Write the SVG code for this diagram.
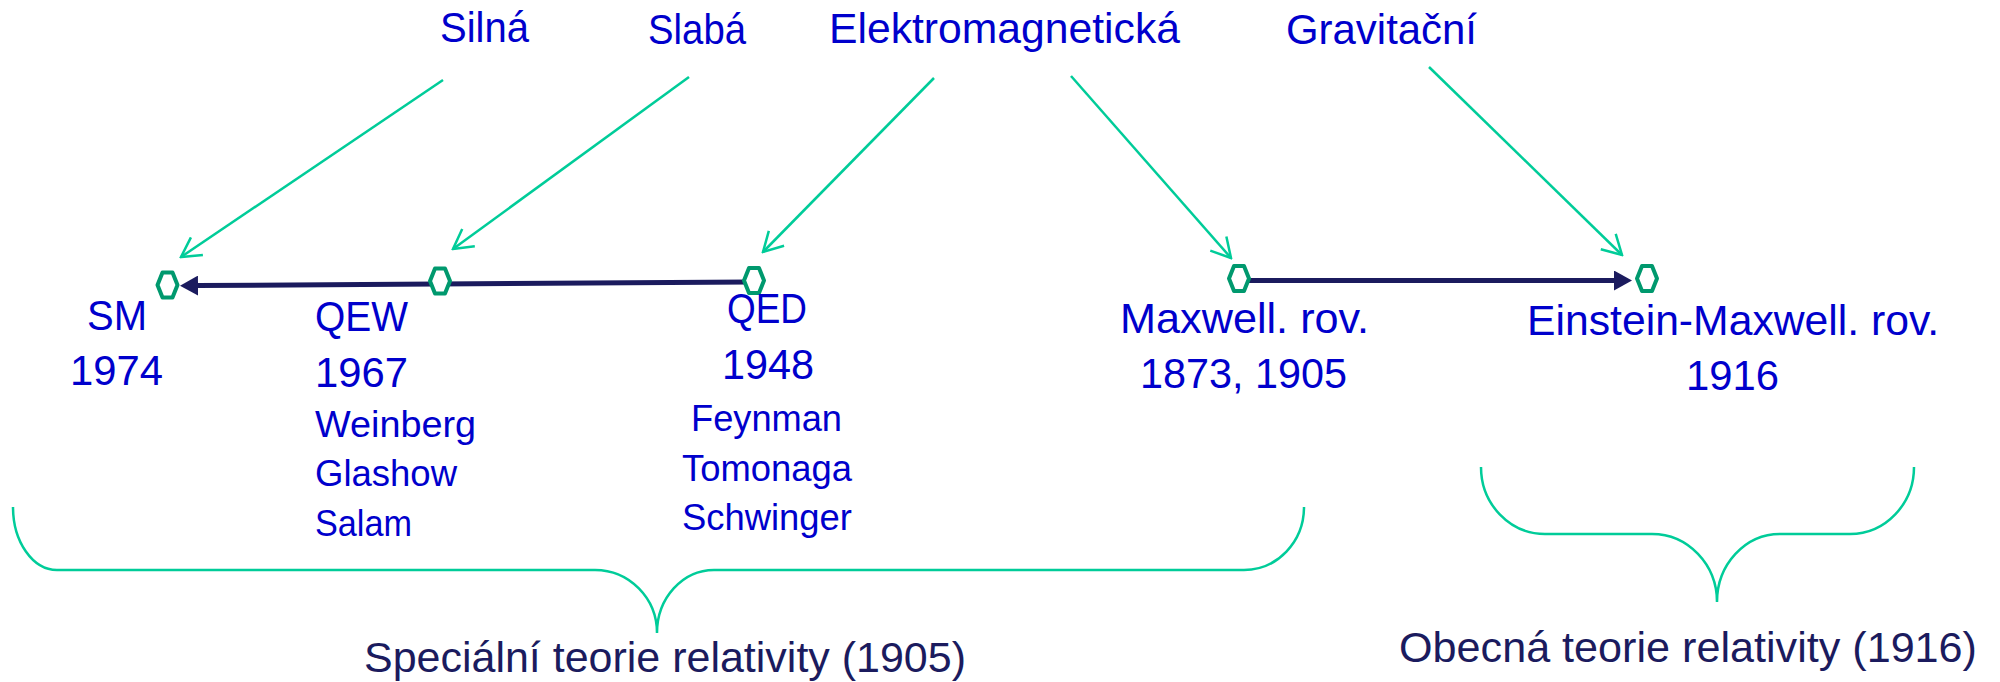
<svg xmlns="http://www.w3.org/2000/svg" width="2000" height="682" viewBox="0 0 2000 682">
<style>
  .lbl { font-family: "Liberation Sans", Arial, sans-serif; font-size: 43px; fill: #0000CC; }
  .name { font-family: "Liberation Sans", Arial, sans-serif; font-size: 37px; fill: #0000CC; }
  .bot { font-family: "Liberation Sans", Arial, sans-serif; font-size: 42px; fill: #1B1B5E; }
  .garrow { fill: none; stroke: #00CC99; stroke-width: 2.5; marker-end: url(#openArrow); }
  .darrow { fill: none; stroke: #1B1B5E; stroke-width: 5; marker-end: url(#solidArrow); }
  .brace { fill: none; stroke: #00CC99; stroke-width: 2.5; }
  .node { fill: #FFFFFF; stroke: #00996E; stroke-width: 4; stroke-linejoin: round; }
</style>
<defs>
  <marker id="openArrow" viewBox="0 0 22 24" refX="20.2" refY="12" markerWidth="22" markerHeight="24" markerUnits="userSpaceOnUse" orient="auto">
    <path d="M1,1.3 L20.2,12 L1,22.7" fill="none" stroke="#00CC99" stroke-width="2.5"/>
  </marker>
  <marker id="solidArrow" viewBox="0 0 18 20" refX="0" refY="10" markerWidth="18" markerHeight="20" markerUnits="userSpaceOnUse" orient="auto">
    <path d="M0,0 L18,10 L0,20 z" fill="#1B1B5E"/>
  </marker>
  <polygon id="hex" points="-10,0 -5,-12.5 5,-12.5 10,0 5,12.5 -5,12.5"/>
</defs>

<g id="forces">
  <text class="lbl" x="440" y="42" textLength="89" lengthAdjust="spacingAndGlyphs">Silná</text>
  <text class="lbl" x="648" y="44" textLength="98" lengthAdjust="spacingAndGlyphs">Slabá</text>
  <text class="lbl" x="829" y="43" textLength="351" lengthAdjust="spacingAndGlyphs">Elektromagnetická</text>
  <text class="lbl" x="1286" y="44" textLength="191" lengthAdjust="spacingAndGlyphs">Gravitační</text>
</g>

<g id="connectors">
  <path class="garrow" d="M443,80 L181,257"/>
  <path class="garrow" d="M689,77 L453,249"/>
  <path class="garrow" d="M934,78 L763,252"/>
  <path class="garrow" d="M1071,76 L1231,258"/>
  <path class="garrow" d="M1429,67 L1622,255"/>
  <path class="darrow" d="M750,282 L198,285.6"/>
  <path class="darrow" d="M1245,280.5 L1614,280.5"/>
</g>

<g id="node-SM">
  <use href="#hex" class="node" x="167.5" y="285"/>
  <text class="lbl" x="87" y="330" textLength="60" lengthAdjust="spacingAndGlyphs">SM</text>
  <text class="lbl" x="70" y="385" textLength="93" lengthAdjust="spacingAndGlyphs">1974</text>
</g>

<g id="node-QEW">
  <use href="#hex" class="node" x="440" y="281"/>
  <text class="lbl" x="315" y="331" textLength="93" lengthAdjust="spacingAndGlyphs">QEW</text>
  <text class="lbl" x="315" y="387" textLength="93" lengthAdjust="spacingAndGlyphs">1967</text>
  <text class="name" x="315" y="437" textLength="161" lengthAdjust="spacingAndGlyphs">Weinberg</text>
  <text class="name" x="315" y="486" textLength="142" lengthAdjust="spacingAndGlyphs">Glashow</text>
  <text class="name" x="315" y="536" textLength="97" lengthAdjust="spacingAndGlyphs">Salam</text>
</g>

<g id="node-QED">
  <use href="#hex" class="node" x="754" y="280.5"/>
  <text class="lbl" x="727" y="323" textLength="80" lengthAdjust="spacingAndGlyphs">QED</text>
  <text class="lbl" x="722" y="379" textLength="92" lengthAdjust="spacingAndGlyphs">1948</text>
  <text class="name" x="691" y="431" textLength="151" lengthAdjust="spacingAndGlyphs">Feynman</text>
  <text class="name" x="682" y="481" textLength="170" lengthAdjust="spacingAndGlyphs">Tomonaga</text>
  <text class="name" x="682" y="530" textLength="170" lengthAdjust="spacingAndGlyphs">Schwinger</text>
</g>

<g id="node-Maxwell">
  <use href="#hex" class="node" x="1239" y="278.5"/>
  <text class="lbl" x="1120" y="333" textLength="249" lengthAdjust="spacingAndGlyphs">Maxwell. rov.</text>
  <text class="lbl" x="1140" y="388" textLength="207" lengthAdjust="spacingAndGlyphs">1873, 1905</text>
</g>

<g id="node-EinsteinMaxwell">
  <use href="#hex" class="node" x="1647" y="278.5"/>
  <text class="lbl" x="1527" y="335" textLength="412" lengthAdjust="spacingAndGlyphs">Einstein-Maxwell. rov.</text>
  <text class="lbl" x="1686" y="390" textLength="93" lengthAdjust="spacingAndGlyphs">1916</text>
</g>

<g id="brace-special">
  <path class="brace" d="M13,507 A44,63 0 0 0 57,570 L595,570 A62,63 0 0 1 657,633 A57,63 0 0 1 714,570 L1244,570 A60,63 0 0 0 1304,507"/>
  <text class="bot" x="364" y="672" textLength="602" lengthAdjust="spacingAndGlyphs">Speciální teorie relativity (1905)</text>
</g>

<g id="brace-general">
  <path class="brace" d="M1481,467 A64,67 0 0 0 1545,534 L1652,534 A65,68 0 0 1 1717,602 A63,68 0 0 1 1780,534 L1850,534 A64,67 0 0 0 1914,467"/>
  <text class="bot" x="1399" y="662" textLength="578" lengthAdjust="spacingAndGlyphs">Obecná teorie relativity (1916)</text>
</g>
</svg>
